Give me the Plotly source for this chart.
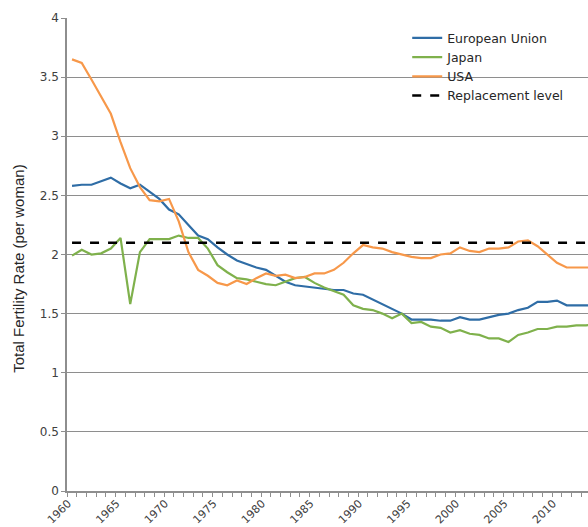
import plotly.graph_objects as go

years = list(range(1960, 2015))

usa = [3.65, 3.62, 3.48, 3.33, 3.19, 2.95, 2.73, 2.57, 2.46, 2.45, 2.47, 2.28, 2.02, 1.87, 1.82, 1.76,
       1.74, 1.78, 1.75, 1.80, 1.84, 1.82, 1.83, 1.80, 1.81, 1.84, 1.84, 1.87, 1.93, 2.01, 2.08, 2.06,
       2.05, 2.02, 2.00, 1.98, 1.97, 1.97, 2.00, 2.01, 2.06, 2.03, 2.02, 2.05, 2.05, 2.06, 2.11, 2.12,
       2.07, 2.00, 1.93, 1.89, 1.89, 1.89, 1.89]
japan = [1.99, 2.04, 2.00, 2.01, 2.05, 2.14, 1.58, 2.02, 2.13, 2.13, 2.13, 2.16, 2.14, 2.14, 2.05, 1.91,
         1.85, 1.80, 1.79, 1.77, 1.75, 1.74, 1.77, 1.80, 1.81, 1.76, 1.72, 1.69, 1.66, 1.57, 1.54, 1.53,
         1.50, 1.46, 1.50, 1.42, 1.43, 1.39, 1.38, 1.34, 1.36, 1.33, 1.32, 1.29, 1.29, 1.26, 1.32, 1.34,
         1.37, 1.37, 1.39, 1.39, 1.40, 1.40, 1.41]
eu = [2.58, 2.59, 2.59, 2.62, 2.65, 2.60, 2.56, 2.59, 2.53, 2.47, 2.38, 2.34, 2.25, 2.16, 2.13, 2.06,
      2.00, 1.95, 1.92, 1.89, 1.87, 1.82, 1.77, 1.74, 1.73, 1.72, 1.71, 1.70, 1.70, 1.67, 1.66, 1.62,
      1.58, 1.54, 1.50, 1.45, 1.45, 1.45, 1.44, 1.44, 1.47, 1.45, 1.45, 1.47, 1.49, 1.50, 1.53, 1.55,
      1.60, 1.60, 1.61, 1.57, 1.57, 1.57, 1.57]
replacement = [2.1] * len(years)

tick_years = list(range(1960, 2015, 5))
y_ticks = [0, 0.5, 1, 1.5, 2, 2.5, 3, 3.5, 4]
y_labels = ["0", "0.5", "1", "1.5", "2", "2.5", "3", "3.5", "4"]

FONT = "DejaVu Sans, Liberation Sans, sans-serif"
GRID = "#8e8e8e"

fig = go.Figure()
fig.add_trace(go.Scatter(x=years, y=eu, name="European Union", mode="lines",
                         line=dict(color="#2f6da6", width=2.2)))
fig.add_trace(go.Scatter(x=years, y=japan, name="Japan", mode="lines",
                         line=dict(color="#7fb14c", width=2.2)))
fig.add_trace(go.Scatter(x=years, y=usa, name="USA", mode="lines",
                         line=dict(color="#f7984a", width=2.2)))
fig.add_trace(go.Scatter(x=years, y=replacement, name="Replacement level", mode="lines",
                         line=dict(color="#000000", width=2.5, dash="dash")))

fig.update_layout(
    width=588, height=527,
    margin=dict(l=67, r=0, t=18, b=36, autoexpand=False),
    paper_bgcolor="white", plot_bgcolor="white",
    font=dict(family=FONT, color="#404040", size=12),
    showlegend=True,
    legend=dict(x=0.653, y=0.989, xanchor="left", yanchor="top",
                bgcolor="rgba(0,0,0,0)", font=dict(size=12.5, color="#262626"),
                tracegroupgap=0, itemwidth=30),
    annotations=[dict(text="Total Fertility Rate (per woman)", xref="paper", yref="paper",
                      x=-0.092, y=0.47, textangle=-90, showarrow=False,
                      font=dict(family="Liberation Sans, Arial, sans-serif", size=15, color="#262626"),
                      xanchor="center", yanchor="middle")],
)
fig.update_xaxes(range=[1959.48, 2013.2], tickmode="array", tickvals=tick_years,
                 ticktext=[str(t) for t in tick_years], tickangle=-45, automargin=False,
                 showgrid=False, zeroline=False, showline=True, linecolor=GRID, linewidth=1.5,
                 ticks="", tickfont=dict(size=11, color="#404040"),
                 ticklabelstandoff=0, ticklabelshift=-4,
                 minor=dict(ticks="outside", tick0=1959.5, dtick=1, ticklen=4, tickcolor=GRID,
                            showgrid=False))
fig.update_yaxes(range=[0, 4], tickmode="array", tickvals=y_ticks, ticktext=y_labels,
                 automargin=False,
                 showgrid=True, gridcolor=GRID, gridwidth=1, zeroline=False,
                 showline=True, linecolor=GRID, linewidth=1.5,
                 ticks="outside", ticklen=4, tickcolor=GRID,
                 tickfont=dict(size=12, color="#404040"))

fig.write_html("out.html", config={"displayModeBar": False},
               post_script="document.body.style.margin='0';")
